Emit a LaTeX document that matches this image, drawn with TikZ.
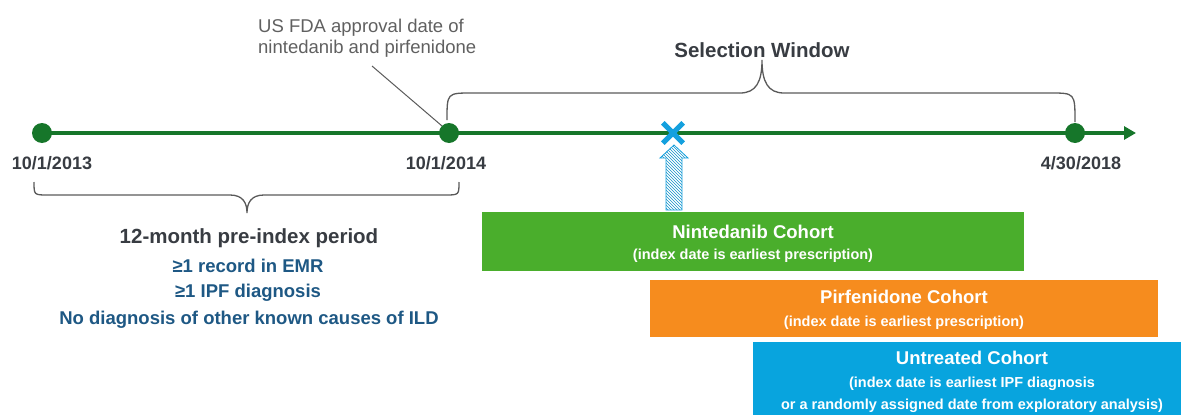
\documentclass[tikz,border=0pt]{standalone}
\usepackage{fontspec}
\setmainfont{Liberation Sans}
\usetikzlibrary{arrows.meta,patterns}
\definecolor{tlgreen}{RGB}{22,118,42}
\definecolor{xblue}{RGB}{20,160,222}
\definecolor{ngreen}{RGB}{74,174,44}
\definecolor{porange}{RGB}{246,140,30}
\definecolor{ublue}{RGB}{8,164,222}
\definecolor{dgray}{RGB}{56,60,66}
\definecolor{tblue}{RGB}{30,88,132}
\definecolor{lgray}{RGB}{96,96,96}
\definecolor{bgray}{RGB}{90,90,90}
\begin{document}
\begin{tikzpicture}[x=1pt,y=-1pt,
  dot/.style={circle,fill=tlgreen,inner sep=0pt,minimum size=20},
  datelbl/.style={font=\fontsize{18}{20}\selectfont\bfseries,text=dgray,inner sep=0pt},
  bigttl/.style={font=\fontsize{20.5}{24}\selectfont\bfseries,text=dgray,inner sep=0pt},
  crit/.style={font=\fontsize{18.5}{22}\selectfont\bfseries,text=tblue,inner sep=0pt},
  cbox/.style={rectangle,inner sep=0pt,anchor=north west,draw=none},
  cttl/.style={font=\fontsize{18.5}{22}\selectfont\bfseries,text=white,inner sep=0pt},
  csub/.style={font=\fontsize{14.5}{17}\selectfont\bfseries,text=white,inner sep=0pt},
  brace/.style={draw=bgray,line width=1.3pt},
  tl/.style={draw=tlgreen,line width=4pt}]
\useasboundingbox (0,0) rectangle (1181,415);

% timeline
\coordinate (tlstart) at (42,133);
\coordinate (tlend) at (1136,133);
\draw[tl,-{Triangle[length=12pt,width=13pt]}] (tlstart) -- (tlend);
\node[dot] (d1) at (42,133) {};
\node[dot] (d2) at (449,133) {};
\node[dot] (d3) at (1075,133) {};

% dates
\node[datelbl] (l1) at (52,163) {10/1/2013};
\node[datelbl] (l2) at (446,163) {10/1/2014};
\node[datelbl] (l3) at (1081,163) {4/30/2018};

% FDA note
\node[font=\fontsize{18.5}{21}\selectfont,text=lgray,align=left,anchor=west,inner sep=0pt] (fda) at (258,38) {US FDA approval date of\\nintedanib and pirfenidone};
\coordinate (fdaend) at (372,66);
\draw[bgray,line width=1pt] (fdaend) -- (d2.north west);

% upper brace (selection window)
\coordinate (ub1) at (447,120);
\coordinate (ub2) at (1075,122);
\coordinate (ubtip) at (762,60);
\draw[brace] (ub1) .. controls (447,93) .. (472,93) -- (740,93)
  .. controls (756,93) and (762,82) .. (ubtip)
  .. controls (762,82) and (768,93) .. (784,93) -- (1050,93)
  .. controls (1075,93) .. (ub2);
\node[bigttl] (sw) at (762,50) {Selection Window};

% lower brace (pre-index)
\coordinate (lb1) at (34,182);
\coordinate (lb2) at (459,182);
\coordinate (lbtip) at (247,213);
\draw[brace] (lb1) .. controls (34,195) .. (48,195) -- (230,195)
  .. controls (243,195) and (247,203) .. (lbtip)
  .. controls (247,203) and (251,195) .. (264,195) -- (445,195)
  .. controls (459,195) .. (lb2);
\node[bigttl] (pre) at (249,238) {12-month pre-index period};
\node[crit] (c1) at (248,266) {≥1 record in EMR};
\node[crit] (c2) at (248,293) {≥1 IPF diagnosis};
\node[crit] (c3) at (249,320) {No diagnosis of other known causes of ILD};

% marker X and hatched arrow
\node[inner sep=0pt,minimum size=20] (xm) at (673,133) {};
\draw[xblue,line width=5pt] (xm.north west) -- (xm.south east) (xm.north east) -- (xm.south west);
\coordinate (arrtip) at (674,145);
\coordinate (arrbase) at (674,210);
\path[fill=xblue!25,pattern=north west lines,pattern color=xblue!90!black]
  (arrtip) -- ++(14,13) -- ++(-6,0) |- (arrbase) -- ++(-8,0) |- ++(-6,-52) -- cycle;
\draw[xblue,line width=0.8pt]
  (arrtip) -- ++(14,13) -- ++(-6,0) |- (arrbase) -- ++(-8,0) |- ++(-6,-52) -- cycle;

% cohort boxes
\node[cbox,fill=ngreen,minimum width=542,minimum height=59] (nb) at (482,212) {};
\node[cttl] (nbt) at (753,232) {Nintedanib Cohort};
\node[csub] (nbs) at (753,256) {(index date is earliest prescription)};

\node[cbox,fill=porange,minimum width=508,minimum height=57] (pb) at (650,280) {};
\node[cttl] (pbt) at (904,297) {Pirfenidone Cohort};
\node[csub] (pbs) at (904,323) {(index date is earliest prescription)};

\node[cbox,fill=ublue,minimum width=428,minimum height=73] (ub) at (753,342) {};
\node[cttl] (ubt) at (972,358) {Untreated Cohort};
\node[csub] (ubs1) at (972,384) {(index date is earliest IPF diagnosis};
\node[csub] (ubs2) at (972,406) {or a randomly assigned date from exploratory analysis)};
\end{tikzpicture}
\end{document}
